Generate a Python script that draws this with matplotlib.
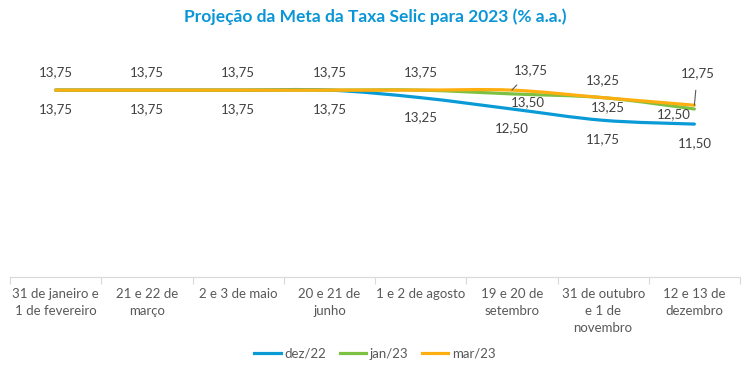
import numpy as np
import matplotlib.pyplot as plt
from matplotlib.path import Path
from matplotlib.patches import PathPatch
from matplotlib.lines import Line2D

plt.rcParams['font.family'] = ['Lato', 'DejaVu Sans']

# dados
categorias = ['31 de janeiro e\n1 de fevereiro', '21 e 22 de\nmarço', '2 e 3 de maio',
              '20 e 21 de\njunho', '1 e 2 de agosto', '19 e 20 de\nsetembro',
              '31 de outubro\ne 1 de\nnovembro', '12 e 13 de\ndezembro']
dez22 = [13.75, 13.75, 13.75, 13.75, 13.25, 12.50, 11.75, 11.50]
jan23 = [13.75, 13.75, 13.75, 13.75, 13.75, 13.50, 13.25, 12.50]
mar23 = [13.75, 13.75, 13.75, 13.75, 13.75, 13.75, 13.25, 12.75]
series = [('dez/22', dez22, '#0A9BD7'), ('jan/23', jan23, '#7CC142'), ('mar/23', mar23, '#FFAE0F')]

# rótulos visíveis: (índice, deslocamento em px, linha guia)
rot_dez = [(i, (0, -19), False) for i in range(8)]
rot_jan = [(5, (16, -8), False), (6, (5, -9), False), (7, (-21, -5), False)]
rot_mar = [(i, (0, 18), False) for i in range(5)] + [(5, (19, 20), True), (6, (0, 18), False), (7, (3, 32), True)]
rotulos = {'dez/22': rot_dez, 'jan/23': rot_jan, 'mar/23': rot_mar}


def suave(x, y):
    # curva suavizada estilo Excel (Bezier com tangentes de Catmull-Rom)
    x = np.asarray(x, float)
    y = np.asarray(y, float)
    verts = [(x[0], y[0])]
    codes = [Path.MOVETO]
    n = len(x)
    for i in range(n - 1):
        i0 = max(i - 1, 0)
        i3 = min(i + 2, n - 1)
        c1 = (x[i] + (x[i + 1] - x[i0]) / 6, y[i] + (y[i + 1] - y[i0]) / 6)
        c2 = (x[i + 1] - (x[i3] - x[i]) / 6, y[i + 1] - (y[i3] - y[i]) / 6)
        verts += [c1, c2, (x[i + 1], y[i + 1])]
        codes += [Path.CURVE4] * 3
    return Path(verts, codes)


fig = plt.figure(figsize=(7.5, 3.76), dpi=100)
ax = fig.add_axes([10 / 750, 1 - 277 / 376, 730 / 750, 237 / 376])
ax.set_xlim(-0.5, 7.5)
ax.set_ylim(1.37, 17.07)

xs = np.arange(len(categorias))
for nome, vals, cor in series:
    ax.add_patch(PathPatch(suave(xs, vals), fill=False, edgecolor=cor, lw=2.3,
                           capstyle='round', joinstyle='round'))

for nome, vals, cor in series:
    for i, (dx, dy), guia in rotulos[nome]:
        txt = f'{vals[i]:.2f}'.replace('.', ',')
        if guia:
            ax.annotate(txt, (xs[i], vals[i]), xytext=(dx * 0.72, dy * 0.72),
                        textcoords='offset points', ha='center', va='center',
                        fontsize=9.5, color='#404040',
                        arrowprops=dict(arrowstyle='-', color='#595959', lw=0.8,
                                        shrinkA=6, shrinkB=0))
        else:
            ax.annotate(txt, (xs[i], vals[i]), xytext=(dx * 0.72, dy * 0.72),
                        textcoords='offset points', ha='center', va='center',
                        fontsize=9.5, color='#404040')

for s in ['top', 'right', 'left']:
    ax.spines[s].set_visible(False)
ax.spines['bottom'].set_color('#D9D9D9')
ax.set_yticks([])
ax.set_xticks(np.arange(-0.5, 8, 1))
ax.set_xticklabels([])
ax.tick_params(axis='x', which='major', length=5, color='#D9D9D9')
ax.set_xticks(xs, minor=True)
ax.set_xticklabels(categorias, minor=True, fontsize=9.5, color='#595959', linespacing=1.5)
ax.tick_params(axis='x', which='minor', length=0, pad=8)

fig.text(0.5, 1 - 17 / 376, 'Projeção da Meta da Taxa Selic para 2023 (% a.a.)',
         ha='center', va='center', fontsize=12.5, fontweight='bold', color='#0A96D6')

handles = [Line2D([], [], color=c, lw=2.3) for _, _, c in series]
fig.legend(handles, [n for n, _, _ in series], loc='center', bbox_to_anchor=(0.5, 22 / 376),
           ncol=3, frameon=False, fontsize=9.5, handlelength=2.0, columnspacing=1.0,
           handletextpad=0.3, labelcolor='#595959')

fig.savefig('out.png', dpi=100)
